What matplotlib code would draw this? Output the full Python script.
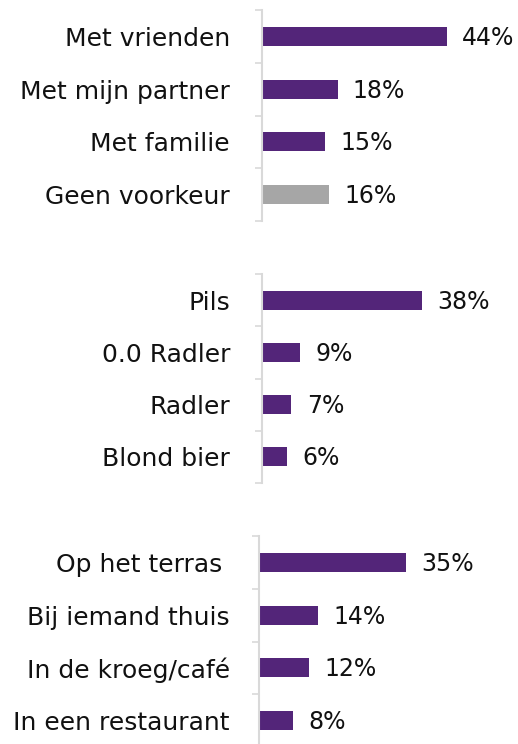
import numpy as np
import matplotlib
matplotlib.use("Agg")
import matplotlib.pyplot as plt

# data
gezelschap = ["Met vrienden", "Met mijn partner", "Met familie", "Geen voorkeur"]
gezelschap_pct = [44, 18, 15, 16]
soort = ["Pils", "0.0 Radler", "Radler", "Blond bier"]
soort_pct = [38, 9, 7, 6]
plek = ["Op het terras ", "Bij iemand thuis", "In de kroeg/café", "In een restaurant"]
plek_pct = [35, 14, 12, 8]

paars = "#532579"
grijs = "#a6a6a6"
as_kleur = "#d9d9d9"

W, H = 518, 744
fig = plt.figure(figsize=(W / 100, H / 100), dpi=100)

def paneel(left, top, bottom, cats, vals, kleuren, pad):
    ax = fig.add_axes([left / W, 1 - bottom / H, 252 / W, (bottom - top) / H])
    y = np.arange(len(cats))
    ax.barh(y, vals, height=0.36, color=kleuren)
    ax.set_ylim(len(cats) - 0.5, -0.5)
    ax.set_xlim(0, 60)
    ax.set_yticks(y)
    ax.set_yticklabels(cats, fontsize=18, color="#111111")
    ax.tick_params(axis="y", which="major", length=0, pad=pad)
    ax.set_yticks(np.arange(-0.5, len(cats)), minor=True)
    ax.tick_params(axis="y", which="minor", length=5, width=1.2, color=as_kleur, direction="out")
    ax.set_xticks([])
    for s in ["top", "right", "bottom"]:
        ax.spines[s].set_visible(False)
    ax.spines["left"].set_color(as_kleur)
    ax.spines["left"].set_linewidth(1.5)
    for yi, v in zip(y, vals):
        ax.annotate(f"{v}%", (v, yi), xytext=(11, -1), textcoords="offset points",
                    va="center", ha="left", fontsize=17, color="#111111")
    return ax

paneel(262, 10, 221, gezelschap, gezelschap_pct, [paars, paars, paars, grijs], 23)
paneel(262, 274, 483, soort, soort_pct, [paars] * 4, 23)
paneel(259, 536, 747, plek, plek_pct, [paars] * 4, 21)

fig.savefig("out.png", dpi=100)
